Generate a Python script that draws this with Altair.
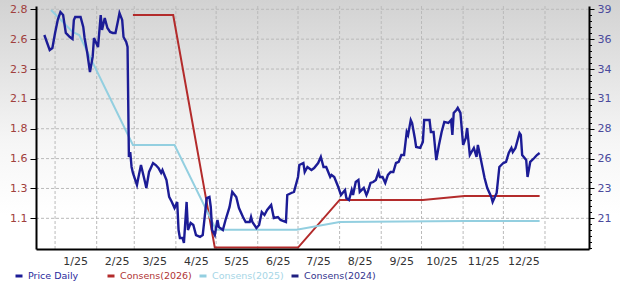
import json
import altair as alt
import pandas as pd

# ---------------- data ----------------
price_dates = [
    "2024-12-24", "2024-12-28", "2024-12-30", "2025-01-01", "2025-01-03", "2025-01-05", "2025-01-07",
    "2025-01-09", "2025-01-12", "2025-01-14", "2025-01-15", "2025-01-16", "2025-01-20", "2025-01-22",
    "2025-01-23", "2025-01-25", "2025-01-27", "2025-01-29", "2025-01-30", "2025-02-02", "2025-02-04",
    "2025-02-05", "2025-02-07", "2025-02-09", "2025-02-11", "2025-02-13", "2025-02-15", "2025-02-17",
    "2025-02-18", "2025-02-20", "2025-02-21", "2025-02-23", "2025-02-24", "2025-02-25", "2025-02-26",
    "2025-02-27", "2025-02-28", "2025-03-03", "2025-03-04", "2025-03-06", "2025-03-09", "2025-03-10",
    "2025-03-12", "2025-03-15", "2025-03-17", "2025-03-19", "2025-03-21", "2025-03-22", "2025-03-25",
    "2025-03-27", "2025-03-29", "2025-03-31", "2025-04-02", "2025-04-03", "2025-04-04", "2025-04-06",
    "2025-04-07", "2025-04-09", "2025-04-10", "2025-04-12", "2025-04-14", "2025-04-16", "2025-04-19",
    "2025-04-21", "2025-04-22", "2025-04-24", "2025-04-26", "2025-04-27", "2025-04-28", "2025-04-30",
    "2025-05-02", "2025-05-03", "2025-05-06", "2025-05-08", "2025-05-11", "2025-05-13", "2025-05-16",
    "2025-05-18", "2025-05-21", "2025-05-23", "2025-05-26", "2025-05-27", "2025-05-28", "2025-05-31",
    "2025-06-02", "2025-06-04", "2025-06-06", "2025-06-08", "2025-06-11", "2025-06-13", "2025-06-16",
    "2025-06-18", "2025-06-22", "2025-06-23", "2025-06-26", "2025-06-28", "2025-07-01", "2025-07-02",
    "2025-07-05", "2025-07-06", "2025-07-08", "2025-07-11", "2025-07-13", "2025-07-16", "2025-07-18",
    "2025-07-20", "2025-07-22", "2025-07-25", "2025-07-26", "2025-07-28", "2025-07-31", "2025-08-02",
    "2025-08-05", "2025-08-06", "2025-08-08", "2025-08-10", "2025-08-11", "2025-08-13", "2025-08-15",
    "2025-08-16", "2025-08-19", "2025-08-21", "2025-08-22", "2025-08-24", "2025-08-26", "2025-08-28",
    "2025-08-30", "2025-08-31", "2025-09-02", "2025-09-04", "2025-09-06", "2025-09-08", "2025-09-10",
    "2025-09-12", "2025-09-14", "2025-09-16", "2025-09-18", "2025-09-20", "2025-09-21", "2025-09-23",
    "2025-09-24", "2025-09-26", "2025-09-27", "2025-09-30", "2025-10-02", "2025-10-03", "2025-10-07",
    "2025-10-08", "2025-10-10", "2025-10-12", "2025-10-14", "2025-10-16", "2025-10-18", "2025-10-21",
    "2025-10-23", "2025-10-24", "2025-10-25", "2025-10-27", "2025-10-28", "2025-10-30", "2025-11-01",
    "2025-11-03", "2025-11-04", "2025-11-06", "2025-11-09", "2025-11-11", "2025-11-12", "2025-11-14",
    "2025-11-17", "2025-11-19", "2025-11-22", "2025-11-23", "2025-11-26", "2025-11-28", "2025-12-01",
    "2025-12-03", "2025-12-05", "2025-12-07", "2025-12-08", "2025-12-10", "2025-12-13", "2025-12-14",
    "2025-12-15", "2025-12-18", "2025-12-19", "2025-12-21", "2025-12-24", "2025-12-26", "2025-12-28",
]
price_values = [
    2.585, 2.459, 2.476, 2.602, 2.711, 2.777, 2.752,
    2.602, 2.568, 2.551, 2.711, 2.736, 2.736, 2.652,
    2.560, 2.434, 2.275, 2.401, 2.560, 2.484, 2.752,
    2.627, 2.727, 2.643, 2.610, 2.602, 2.602, 2.711,
    2.769, 2.711, 2.568, 2.526, 2.484, 1.564, 1.605,
    1.480, 1.430, 1.329, 1.388, 1.496, 1.354, 1.304,
    1.438, 1.513, 1.496, 1.471, 1.430, 1.455, 1.371,
    1.229, 1.187, 1.136, 1.187, 0.952, 0.885, 0.885,
    0.844, 1.187, 0.952, 1.011, 0.994, 0.910, 0.894,
    0.910, 1.011, 1.220, 1.229, 1.145, 0.952, 0.910,
    1.036, 0.977, 0.952, 1.036, 1.145, 1.271, 1.229,
    1.136, 1.061, 1.019, 1.019, 1.061, 1.019, 0.969,
    0.994, 1.103, 1.078, 1.120, 1.162, 1.053, 1.061,
    1.036, 1.019, 1.245, 1.262, 1.271, 1.396, 1.496,
    1.513, 1.438, 1.480, 1.455, 1.471, 1.513, 1.564,
    1.480, 1.480, 1.396, 1.413, 1.396, 1.312, 1.245,
    1.287, 1.220, 1.204, 1.287, 1.245, 1.354, 1.371,
    1.271, 1.304, 1.245, 1.271, 1.346, 1.354, 1.371,
    1.438, 1.396, 1.396, 1.346, 1.413, 1.438, 1.438,
    1.513, 1.522, 1.580, 1.580, 1.773, 1.748, 1.873,
    1.848, 1.723, 1.647, 1.639, 1.689, 1.873, 1.873,
    1.773, 1.773, 1.538, 1.664, 1.773, 1.857, 1.848,
    1.873, 1.748, 1.932, 1.957, 1.974, 1.932, 1.664,
    1.723, 1.806, 1.580, 1.639, 1.564, 1.664, 1.555,
    1.388, 1.304, 1.229, 1.187, 1.262, 1.480, 1.513,
    1.522, 1.597, 1.639, 1.605, 1.639, 1.764, 1.748,
    1.580, 1.538, 1.396, 1.522, 1.555, 1.580, 1.597,
]

cons2026_dates = ["2025-02-28", "2025-03-30", "2025-04-30", "2025-07-01",
                  "2025-08-01", "2025-10-02", "2025-11-02", "2025-12-28"]
cons2026_values = [38.30, 38.30, 18.05, 18.05, 22.20, 22.20, 22.54, 22.54]

cons2025_dates = ["2024-12-29", "2025-01-14", "2025-01-19", "2025-02-28", "2025-03-31",
                  "2025-05-01", "2025-06-30", "2025-08-01", "2025-11-02", "2025-12-28"]
cons2025_values = [38.74, 36.82, 36.56, 26.98, 26.98, 19.60, 19.60, 20.28, 20.37, 20.37]

series_names = ["Price Daily", "Consens(2026)", "Consens(2025)", "Consens(2024)"]
series_colors = ["#1c1c96", "#b32b2b", "#93cfe0", "#1f1f80"]
label_colors = ["#2a2a9c", "#b03434", "#a6d6e6", "#34348e"]

left_ticks = [1.05, 1.3, 1.55, 1.8, 2.05, 2.3, 2.55, 2.8]
right_major = [20.6, 23.2, 25.8, 28.4, 31.0, 33.6, 36.2, 38.8]
right_ticks = [round(20.6 + 0.52 * k, 2) for k in range(-5, 36)]
month_starts = [(2025, m) for m in range(1, 13)] + [(2026, 1)]

# ---------------- frames ----------------
price_df = pd.DataFrame({"date": price_dates, "value": price_values, "series": "Price Daily"})
cons_df = pd.concat([
    pd.DataFrame({"date": cons2026_dates, "value": cons2026_values, "series": "Consens(2026)"}),
    pd.DataFrame({"date": cons2025_dates, "value": cons2025_values, "series": "Consens(2025)"}),
])
grid_x_df = pd.DataFrame({"date": [f"{y}-{m:02d}-01" for y, m in month_starts]})
grid_y_df = pd.DataFrame({"value": right_major})

W, H = 553, 243
FONT = "DejaVu Sans"

x_enc = alt.X(
    "date:T",
    title=None,
    scale=alt.Scale(type="utc", domain=[
        alt.DateTime(year=2024, month=12, date=17, hours=19, utc=True),
        alt.DateTime(year=2026, month=2, date=2, hours=19, utc=True),
    ]),
    axis=alt.Axis(
        values=[alt.DateTime(year=y, month=m, date=1, utc=True) for y, m in month_starts],
        grid=False, ticks=False, domainColor="black", domainWidth=2,
        labelExpr="utcyear(datum.value) > 2025 ? '' : utcFormat(datum.value, '%-m/%y')",
        labelOffset=20, labelPadding=6, labelFont=FONT, labelFontSize=11,
        labelColor="#333333", labelOverlap=False, labelFlush=False, zindex=1,
    ),
)

major_test = "indexof(" + json.dumps(right_major) + ", round(datum.value*10)/10) >= 0"

y_right = alt.Y(
    "value:Q", title=None,
    scale=alt.Scale(domain=[17.929, 39.087], nice=False, zero=False),
    axis=alt.Axis(
        orient="right", values=right_ticks, grid=False,
        labelExpr=major_test + " ? format(datum.value, '.0f') : ''",
        tickSize={"condition": {"test": major_test, "value": 5}, "value": 2.5},
        tickColor="black", tickWidth=1, domainColor="black", domainWidth=2,
        labelPadding=3, labelFont=FONT, labelFontSize=11, labelColor="#4a4a9c",
        labelOverlap=False, zindex=1,
    ),
)

y_left = alt.Y(
    "value:Q", title=None,
    scale=alt.Scale(domain=[0.7931, 2.8276], nice=False, zero=False),
    axis=alt.Axis(
        orient="left", values=left_ticks, grid=False,
        labelExpr="format(datum.value + 0.001, '.1f')",
        tickColor="black", tickSize=6, tickWidth=1, domainColor="black", domainWidth=2,
        labelPadding=3, labelFont=FONT, labelFontSize=11, labelColor="#a0403c",
        labelOverlap=False, zindex=1,
    ),
)

label_expr = " : ".join(
    f"datum.label == '{n}' ? '{c}'" for n, c in zip(series_names, label_colors)
) + " : '#333333'"

color_enc = alt.Color(
    "series:N",
    scale=alt.Scale(domain=series_names, range=series_colors),
    legend=alt.Legend(
        title=None, orient="none", legendX=-22, legendY=265, direction="horizontal",
        columns=4, gridAlign="all", columnPadding=1, padding=0,
        symbolType="stroke", symbolSize=49, symbolStrokeWidth=3,
        labelFont=FONT, labelFontSize=9.5, labelOffset=4,
        labelColor=alt.ExprRef(expr=label_expr),
    ),
)

bg = alt.Chart(pd.DataFrame({"a": [0]})).mark_rect(
    color=alt.Gradient(
        gradient="linear", x1=0, y1=0, x2=0, y2=1,
        stops=[alt.GradientStop(offset=0, color="#d2d2d2"),
               alt.GradientStop(offset=0.5, color="#f6f6f6"),
               alt.GradientStop(offset=0.75, color="#ffffff"),
               alt.GradientStop(offset=1, color="#ffffff")],
    )
).encode(
    x=alt.value(-36), x2=alt.value(W + 31), y=alt.value(-6), y2=alt.value(H + 38)
)

GRID = "#bababa"

vgrid = alt.Chart(grid_x_df).mark_rule(
    color=GRID, strokeWidth=1, strokeDash=[3, 2]
).encode(x=x_enc)

hgrid = alt.Chart(grid_y_df).mark_rule(
    color=GRID, strokeWidth=1, strokeDash=[3, 2]
).encode(y=y_right)

cons = alt.Chart(cons_df).mark_line(strokeWidth=2).encode(
    x=x_enc, y=y_right, color=color_enc, detail="series:N"
)

price = alt.Chart(price_df).mark_line(strokeWidth=2.4).encode(
    x=x_enc, y=y_left, color=color_enc
)

right_group = alt.layer(hgrid, cons)

chart = alt.layer(bg, vgrid, right_group, price).resolve_scale(
    y="independent"
).properties(
    width=W, height=H,
    autosize=alt.AutoSizeParams(type="none"),
    padding={"left": 36, "top": 6, "right": 31, "bottom": 38},
    background="white",
).configure_view(stroke=None)

chart.save("out.html", embed_options={"renderer": "svg", "actions": False})
